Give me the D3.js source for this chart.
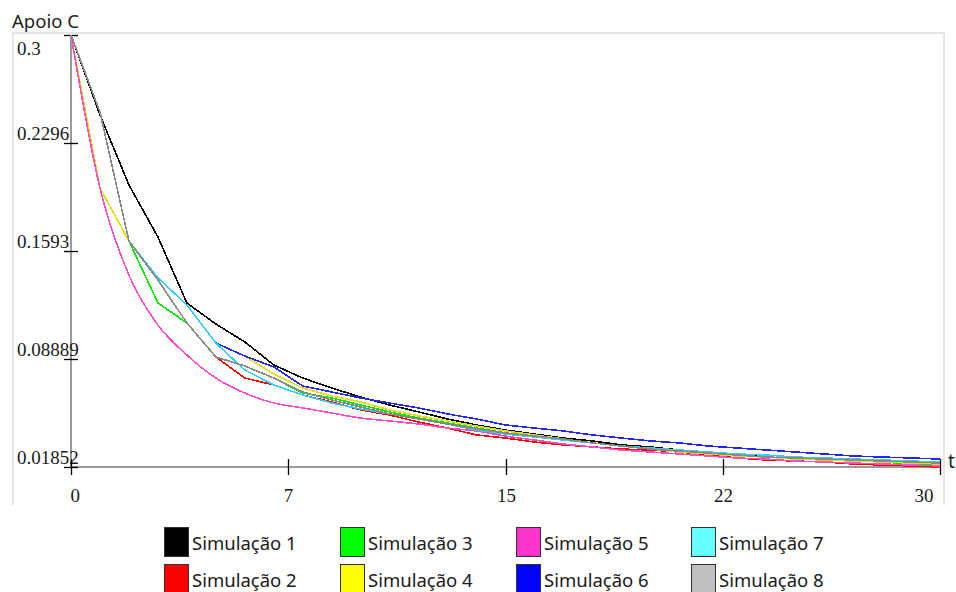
<!DOCTYPE html>
<html>
<head>
<meta charset="utf-8">
<script src="https://cdn.jsdelivr.net/npm/d3@7/dist/d3.min.js"></script>
<style>
html,body{margin:0;padding:0;background:#fff;}
svg{display:block;}
</style>
</head>
<body>
<div id="chart"></div>
<script>
// tempo (t) e valores de cada simulação
var tempo = d3.range(0, 31);
var sim1 = [0.3,0.2479,0.2023,0.1684,0.1254,0.1117,0.1000,0.0850,0.0765,0.0700,0.0641,0.0589,0.0544,0.0498,0.0459,0.0426,0.0400,0.0374,0.0355,0.0329,0.0316,0.0296,0.0276,0.0270,0.0250,0.0244,0.0231,0.0224,0.0218,0.0211,0.0211];
var sim2 = [0.3,0.2498,0.1658,0.1404,0.1124,0.0902,0.0765,0.0720,0.0654,0.0609,0.0557,0.0524,0.0478,0.0439,0.0394,0.0374,0.0348,0.0329,0.0316,0.0302,0.0296,0.0283,0.0263,0.0244,0.0231,0.0224,0.0218,0.0205,0.0198,0.0192,0.0185];
var sim3 = [0.3,0.2003,0.1658,0.1254,0.1124,0.0902,0.0843,0.0765,0.0667,0.0635,0.0589,0.0544,0.0504,0.0472,0.0439,0.0407,0.0381,0.0361,0.0342,0.0322,0.0302,0.0289,0.0270,0.0263,0.0250,0.0244,0.0231,0.0224,0.0218,0.0205,0.0198];
var sim4 = [0.3,0.2003,0.1658,0.1417,0.1241,0.0993,0.0908,0.0791,0.0700,0.0648,0.0609,0.0557,0.0518,0.0485,0.0452,0.0420,0.0394,0.0368,0.0342,0.0322,0.0302,0.0283,0.0270,0.0257,0.0250,0.0237,0.0231,0.0224,0.0218,0.0211,0.0205];
var sim5 = [0.3,0.2003,0.1436,0.1110,0.0915,0.0765,0.0667,0.0602,0.0570,0.0537,0.0504,0.0485,0.0465,0.0439,0.0420,0.0387,0.0361,0.0335,0.0316,0.0296,0.0283,0.0270,0.0257,0.0244,0.0237,0.0224,0.0218,0.0211,0.0205,0.0198,0.0192];
var sim6 = [0.3,0.2498,0.1658,0.1417,0.1241,0.0993,0.0908,0.0837,0.0713,0.0674,0.0635,0.0602,0.0570,0.0531,0.0498,0.0459,0.0439,0.0420,0.0394,0.0374,0.0355,0.0342,0.0322,0.0309,0.0296,0.0283,0.0270,0.0257,0.0250,0.0244,0.0237];
var sim7 = [0.3,0.2498,0.1658,0.1417,0.1241,0.0993,0.0817,0.0720,0.0654,0.0602,0.0563,0.0531,0.0498,0.0465,0.0426,0.0400,0.0381,0.0361,0.0342,0.0322,0.0309,0.0296,0.0283,0.0270,0.0263,0.0250,0.0244,0.0237,0.0231,0.0224,0.0218];
var sim8 = [0.3,0.2498,0.1658,0.1404,0.1124,0.0902,0.0843,0.0765,0.0674,0.0622,0.0576,0.0531,0.0498,0.0465,0.0433,0.0407,0.0387,0.0368,0.0342,0.0322,0.0302,0.0289,0.0276,0.0263,0.0250,0.0244,0.0237,0.0231,0.0224,0.0218,0.0211];

var nomes = ["Simulação 1","Simulação 2","Simulação 3","Simulação 4","Simulação 5","Simulação 6","Simulação 7","Simulação 8"];
var yTicks = [0.01852, 0.08889, 0.1593, 0.2296, 0.3];
var yTickLabels = ["0.01852", "0.08889", "0.1593", "0.2296", "0.3"];
var xTicks = [0, 7.5, 15, 22.5, 30];
var xTickLabels = ["0", "7", "15", "22", "30"];

var series = [sim1, sim2, sim3, sim4, sim5, sim6, sim7, sim8];
var lineColors = ["#000000","#ff0000","#00e600","#e0e000","#ff4dc8","#2424ff","#33ccff","#888888"];
var swatchColors = ["#000000","#ff0000","#00ff00","#ffff00","#ff33cc","#0000ff","#66ffff","#c0c0c0"];

var W = 956, H = 592;
var svg = d3.select("#chart").append("svg").attr("width", W).attr("height", H);

var x = d3.scaleLinear().domain([0, 30]).range([71, 940]);
var y = d3.scaleLinear().domain([0.01852, 0.3]).range([467, 35]);

var serif = "'Liberation Serif', 'Times New Roman', serif";
var sans = "'Noto Sans', 'Open Sans', sans-serif";

// moldura clara
svg.append("path")
	.attr("d", "M13,505 L13,33 L944,33 L944,505")
	.attr("fill", "none").attr("stroke", "#e6e6e6").attr("stroke-width", 2);

svg.append("text").text("Apoio C")
	.attr("x", 12).attr("y", 28)
	.attr("font-family", sans)
	.attr("font-size", 18.5).attr("fill", "#222");

// eixos
svg.append("line").attr("x1", x(0)).attr("x2", x(0)).attr("y1", y(0.3)).attr("y2", y(0.01852))
	.attr("stroke", "#9a9a9a").attr("stroke-width", 2);
svg.append("line").attr("x1", x(0)).attr("x2", x(30)).attr("y1", y(0.01852)).attr("y2", y(0.01852))
	.attr("stroke", "#9a9a9a").attr("stroke-width", 2);

var yg = svg.append("g").attr("class", "yticks");
yTicks.forEach(function(v, i){
	var yy = Math.round(y(v)) + 0.5;
	yg.append("line").attr("x1", x(0) - 7).attr("x2", x(0) + 7).attr("y1", yy).attr("y2", yy)
		.attr("stroke", "#000").attr("stroke-width", 1.3);
	yg.append("text").text(yTickLabels[i])
		.attr("x", 17).attr("y", i == yTicks.length - 1 ? yy + 19 : yy - 4)
		.attr("font-family", serif)
		.attr("font-size", 19).attr("fill", "#1a1a1a");
});

var xg = svg.append("g").attr("class", "xticks");
xTicks.forEach(function(v, i){
	var xx = Math.round(x(v)) + 0.5;
	xg.append("line").attr("x1", xx).attr("x2", xx).attr("y1", y(0.01852) - 8).attr("y2", y(0.01852) + 8)
		.attr("stroke", "#000").attr("stroke-width", 1.3);
	var anchor = i == 0 ? "start" : (i == xTicks.length - 1 ? "end" : "middle");
	xg.append("text").text(xTickLabels[i])
		.attr("x", i == 0 ? xx - 1 : (i == xTicks.length - 1 ? xx - 7 : xx))
		.attr("y", 502)
		.attr("text-anchor", anchor)
		.attr("font-family", serif)
		.attr("font-size", 19).attr("fill", "#1a1a1a");
});

svg.append("rect").attr("x", 945).attr("y", 449).attr("width", 11).attr("height", 34).attr("fill", "#fff");
svg.append("text").text("t").attr("x", 948).attr("y", 468)
	.attr("font-family", sans).attr("font-size", 19).attr("fill", "#222");

// curvas
var line = d3.line()
	.x(function(d, i){ return x(tempo[i]); })
	.y(function(d){ return y(d); });

var gLines = svg.append("g").attr("class", "lines");
series.forEach(function(s, k){
	gLines.append("path")
		.attr("d", k == 4 ? line.curve(d3.curveMonotoneX)(s) : line.curve(d3.curveLinear)(s))
		.attr("fill", "none")
		.attr("stroke", lineColors[k])
		.attr("stroke-width", 1.6)
		.attr("shape-rendering", "crispEdges");
});

// legenda
var leg = svg.append("g").attr("class", "legend");
var colX = [164, 340, 516, 691], rowY = [527, 564];
nomes.forEach(function(n, k){
	var c = Math.floor(k / 2), r = k % 2;
	var item = leg.append("g").attr("transform", "translate(" + colX[c] + "," + rowY[r] + ")");
	item.append("rect").attr("x", 0.5).attr("y", 0.5).attr("width", 24).attr("height", 29)
		.attr("fill", swatchColors[k]).attr("stroke", "#333").attr("stroke-width", 1);
	item.append("text").text(n).attr("x", 28).attr("y", 23)
		.attr("font-family", sans)
		.attr("font-size", 18.5).attr("fill", "#1a1a1a");
});
</script>
</body>
</html>
